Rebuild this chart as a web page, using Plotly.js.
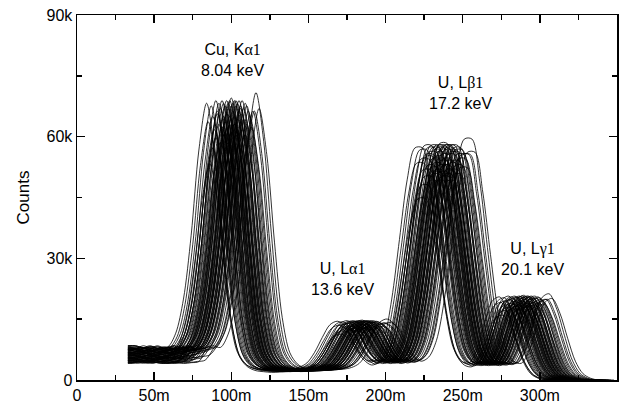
<!DOCTYPE html>
<html>
<head>
<meta charset="utf-8">
<script src="https://cdn.plot.ly/plotly-3.0.1.min.js"></script>
<style>html,body{margin:0;padding:0;background:#fff;}#chart{width:636px;height:404px;}</style>
</head>
<body>
<div id="chart"></div>
<script>
// Representative spectrum (position in m, counts)
const baseX = [10,15,20,25,30,35,40,45,50,55,60,65,70,75,80,85,90,95,100,105,110,115,120,125,130,135,140,145,150,155,160,165,170,175,180,185,190,195,200,205,210,215,220,225,230,235,240,245,250,255,260,265,270,275,280,285,290,295,300,305,310,315,320,325,330];
const baseY = [6300,6000,6500,6100,6400,6200,5900,6500,6000,6300,5800,6100,6500,7800,11000,19000,34000,54000,65000,54000,33000,15000,6500,3800,2800,2500,2300,2400,2500,2600,3000,4000,6500,10000,13000,13800,12500,9000,6000,4500,5500,9500,19000,33000,47000,54500,54500,45000,30000,16000,7500,4500,4000,7000,13000,18500,19500,16000,10000,4500,1500,400,0,0,0];
// Per-spectrum peak offsets (m), amplitude factors and left-background factors
const shifts = [-16,-14,-13,-12,-11,-10,-10,-9,-8,-8,-7,-7,-6,-6,-5,-5,-5,-4,-4,-3,-3,-3,-2,-2,-2,-1,-1,-1,0,0,0,0,1,1,1,2,2,2,3,3,3,4,4,4,5,5,5,6,6,7,7,8,8,9,9,10,10,11,12,13,14,16,18,-15,-12,-9,-4,2,6,15];
const scales = [1.05,0.82,1.04,1.0,0.95,1.06,0.92,1.02,0.97,1.05,0.9,1.03,1.06,0.96,1.0,1.05,0.93,1.04,0.98,1.06,0.95,1.01,1.05,0.9,1.03,0.97,1.06,1.0,1.04,0.94,1.07,0.99,1.05,0.92,1.02,1.06,0.97,1.0,1.04,0.93,1.06,0.99,1.05,0.95,1.02,1.06,0.9,1.04,0.98,1.06,0.95,1.03,0.99,1.05,0.93,1.04,0.97,1.02,1.0,0.96,1.02,1.09,1.03,0.98,0.88,1.01,0.94,0.97,1.03,1.02];
const bgScales = [1.2,0.8,1.1,0.9,1.25,0.85,1.05,0.75,1.15,0.95,1.3,0.8,1.0,1.2,0.7,1.1,0.9,1.25,0.85,1.05,0.75,1.15,0.95,1.3,0.8,1.0,1.2,0.7,1.1,0.9,1.25,0.85,1.05,0.75,1.15,0.95,1.3,0.8,1.0,1.2,0.7,1.1,0.9,1.25,0.85,1.05,0.75,1.15,0.95,1.3,0.8,1.0,1.2,0.7,1.1,0.9,1.25,0.85,1.05,0.75,1.15,0.95,1.3,0.8,1.0,1.2,0.7,1.1,0.9,1.25];
const startX = 33;
const bgEndX = 70;
const xTickVals = [0,50,100,150,200,250,300,350];
const xTickText = ['0','50m','100m','150m','200m','250m','300m','350m'];
const yTickVals = [0,30000,60000,90000];
const yTickText = ['0','30k','60k','90k'];
const labels = [
  {x:100.5, y:79000, text:'Cu, K<span style="font-family:Liberation Serif">α1</span><br>8.04 keV'},
  {x:172, y:25000, text:'U, L<span style="font-family:Liberation Serif">α1</span><br>13.6 keV'},
  {x:248.5, y:70700, text:'U, L<span style="font-family:Liberation Serif">β1</span><br>17.2 keV'},
  {x:295.5, y:29900, text:'U, L<span style="font-family:Liberation Serif">γ1</span><br>20.1 keV'}
];

const traces = shifts.map((s, i) => {
  const xs = [], ys = [];
  baseX.forEach((bx, j) => {
    const x = bx + s;
    const f = bx <= bgEndX ? bgScales[i] : scales[i];
    if (x > startX) { xs.push(x); ys.push(baseY[j] * f); }
  });
  xs.unshift(startX); ys.unshift(ys[0]);
  return {x: xs, y: ys, type: 'scatter', mode: 'lines',
    line: {color: '#000', width: 0.8, shape: 'spline', smoothing: 0.9},
    hoverinfo: 'skip', showlegend: false};
});

const font = {family: 'Liberation Sans, Arial, sans-serif', size: 16, color: '#000'};
const axisCommon = {
  showline: true, linecolor: '#000', linewidth: 1.5, mirror: 'allticks',
  ticks: 'inside', ticklen: 8, tickwidth: 1.5, tickcolor: '#000',
  showgrid: false, zeroline: false, tickfont: font
};
const layout = {
  width: 636, height: 404,
  margin: {l: 77, r: 19, t: 15, b: 24},
  paper_bgcolor: '#fff', plot_bgcolor: '#fff',
  font: font,
  xaxis: Object.assign({}, axisCommon, {
    range: [0, 350], tickmode: 'array', tickvals: xTickVals, ticktext: xTickText,
    minor: {dtick: 25, tick0: 0, ticks: 'inside', ticklen: 5, tickwidth: 1.5, tickcolor: '#000'}
  }),
  yaxis: Object.assign({}, axisCommon, {
    range: [0, 90000], tickmode: 'array', tickvals: yTickVals, ticktext: yTickText,
    minor: {dtick: 15000, tick0: 0, ticks: 'inside', ticklen: 5, tickwidth: 1.5, tickcolor: '#000'},
    title: {text: 'Counts', font: {family: font.family, size: 17, color: '#000'}, standoff: 12}
  }),
  annotations: labels.map(l => ({x: l.x, y: l.y, text: l.text, showarrow: false,
    font: font, align: 'center', xanchor: 'center', yanchor: 'middle'}))
};
Plotly.newPlot('chart', traces, layout, {staticPlot: true, displayModeBar: false});
</script>
</body>
</html>
